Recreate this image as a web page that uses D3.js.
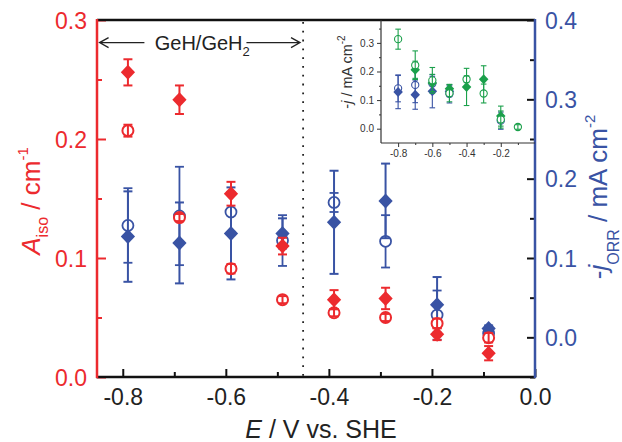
<!DOCTYPE html>
<html>
<head>
<meta charset="utf-8">
<script src="https://cdn.jsdelivr.net/npm/d3@7"></script>
<style>
  body { margin: 0; background: #fff; }
  svg { font-family: "Liberation Sans", Arial, sans-serif; }
</style>
</head>
<body>
<div id="chart"></div>
<script>
// Main plot data (potential in V vs. SHE)
const potentials = [-0.79, -0.69, -0.59, -0.49, -0.39, -0.29, -0.19, -0.09];
const aisoFilled = [0.256, 0.233, 0.154, 0.110, 0.065, 0.066, 0.036, 0.020];
const aisoFilledErr = [0.011, 0.012, 0.010, 0.007, 0.008, 0.009, 0.005, 0.006];
const aisoOpen = [0.207, 0.134, 0.091, 0.065, 0.054, 0.050, 0.045, 0.033];
const aisoOpenErr = [0.005, 0.003, 0.004, 0.003, 0.003, 0.003, 0.004, 0.004];
const jorrFilled = [0.127, 0.119, 0.131, 0.131, 0.145, 0.172, 0.041, 0.011];
const jorrFilledErr = [0.057, 0.051, 0.058, 0.019, 0.065, 0.047, 0.035, 0.004];
const jorrOpen = [0.141, 0.153, 0.158, 0.122, 0.170, 0.121, 0.028, 0.005];
const jorrOpenErr = [0.047, 0.062, 0.025, 0.032, 0.012, 0.033, 0.031, 0.004];

// Inset data
const insetPotentials = [-0.8, -0.7, -0.6, -0.5, -0.4, -0.3, -0.2, -0.1];
const insetBlueFilled = [0.128, 0.119, 0.131, 0.131, null, null, null, null];
const insetBlueFilledErr = [0.058, 0.051, 0.058, 0.019, null, null, null, null];
const insetBlueOpen = [0.141, 0.153, 0.158, 0.122, null, null, 0.028, null];
const insetBlueOpenErr = [0.047, 0.062, 0.025, 0.032, null, null, 0.03, null];
const insetGreenFilled = [null, 0.206, 0.160, 0.140, 0.146, 0.173, 0.044, null];
const insetGreenFilledErr = [null, 0.030, 0.030, 0.015, 0.065, 0.047, 0.035, null];
const insetGreenOpen = [0.313, 0.222, 0.169, 0.124, 0.173, 0.123, 0.032, 0.006];
const insetGreenOpenErr = [0.035, 0.050, 0.045, 0.030, 0.012, 0.033, 0.030, 0.008];

// Tick values
const xMajor = [-0.8, -0.6, -0.4, -0.2, 0.0];
const xMinor = [-0.7, -0.5, -0.3, -0.1];
const yLeftMajor = [0.0, 0.1, 0.2, 0.3];
const yLeftMinor = [0.05, 0.15, 0.25];
const yRightMajor = [0.0, 0.1, 0.2, 0.3, 0.4];
const yRightMinor = [-0.05, 0.05, 0.15, 0.25, 0.35];
const insetXMajor = [-0.8, -0.6, -0.4, -0.2];
const insetXMinor = [-0.7, -0.5, -0.3, -0.1];
const insetYMajor = [0.0, 0.1, 0.2, 0.3];
const insetYMinor = [0.05, 0.15, 0.25, 0.35];

const RED = '#ec2a2e';
const BLUE = '#3953a4';
const GREEN = '#1ba04b';
const INK = '#111';

const W = 622, H = 442;
const svg = d3.select('#chart').append('svg')
  .attr('width', W).attr('height', H)
  .style('background', '#fff');

// Scales
const x = d3.scaleLinear().domain([-0.85, 0]).range([97, 535]);
const yL = d3.scaleLinear().domain([0, 0.3]).range([377, 20]);
const yR = d3.scaleLinear().domain([-0.05, 0.4]).range([377, 20]);

const xi = d3.scaleLinear().domain([-0.9, 0]).range([381, 535]);
const yi = d3.scaleLinear().domain([-0.05, 0.38]).range([143, 20]);

const fmt = d => d.toFixed(1);

function diamondPath(s) {
  return `M0,${-s}L${s * 0.95},0L0,${s}L${-s * 0.95},0Z`;
}

// draws error bars + markers for one series
function drawSeries(g, xs, ys, errs, xs_, ys_, o) {
  const pts = xs.map((v, i) => ({ x: v, y: ys[i], e: errs[i] })).filter(d => d.y != null);
  const grp = g.append('g');
  const errG = grp.append('g');
  const mkG = grp.append('g');
  if (o.errOnTop) errG.raise();
  pts.forEach(d => {
    const cx = xs_(d.x);
    const y1 = ys_(d.y - d.e), y2 = ys_(d.y + d.e);
    errG.append('line').attr('x1', cx).attr('x2', cx).attr('y1', y1).attr('y2', y2)
      .attr('stroke', o.color).attr('stroke-width', o.sw);
    [y1, y2].forEach(yy => errG.append('line')
      .attr('x1', cx - o.cap).attr('x2', cx + o.cap).attr('y1', yy).attr('y2', yy)
      .attr('stroke', o.color).attr('stroke-width', o.sw));
  });
  if (o.shape === 'diamond') {
    mkG.selectAll('path').data(pts).enter().append('path')
      .attr('d', diamondPath(o.size))
      .attr('transform', d => `translate(${xs_(d.x)},${ys_(d.y)})`)
      .attr('fill', o.color);
  } else {
    mkG.selectAll('circle').data(pts).enter().append('circle')
      .attr('cx', d => xs_(d.x)).attr('cy', d => ys_(d.y))
      .attr('r', o.size)
      .attr('fill', '#fff').attr('stroke', o.color).attr('stroke-width', o.sw);
  }
}

// ---------- main axes ----------
const axes = svg.append('g');

function styleAxis(sel, tickColor, labelColor, fontSize) {
  sel.select('.domain').remove();
  sel.selectAll('.tick line').attr('stroke', tickColor).attr('stroke-width', 2);
  sel.selectAll('.tick text').attr('fill', labelColor).style('font-size', fontSize + 'px');
}

// bottom
const gxMajor = axes.append('g').attr('transform', 'translate(0,377)')
  .call(d3.axisBottom(x).tickValues(xMajor).tickSize(-8).tickFormat(fmt));
styleAxis(gxMajor, INK, '#222', 23);
gxMajor.selectAll('.tick text').attr('y', 28).attr('dy', 0);
axes.append('g').attr('transform', 'translate(0,377)')
  .call(d3.axisBottom(x).tickValues(xMinor).tickSize(-5).tickFormat(''))
  .call(s => styleAxis(s, INK, INK, 10));

// left
const gyl = axes.append('g').attr('transform', 'translate(97,0)')
  .call(d3.axisLeft(yL).tickValues(yLeftMajor).tickSize(-9).tickFormat(fmt));
styleAxis(gyl, RED, RED, 23);
gyl.selectAll('.tick text').attr('x', -10).attr('dy', '0.36em');
axes.append('g').attr('transform', 'translate(97,0)')
  .call(d3.axisLeft(yL).tickValues(yLeftMinor).tickSize(-5).tickFormat(''))
  .call(s => styleAxis(s, RED, RED, 10));

// right
const gyr = axes.append('g').attr('transform', 'translate(535,0)')
  .call(d3.axisRight(yR).tickValues(yRightMajor).tickSize(-8).tickFormat(fmt));
styleAxis(gyr, INK, BLUE, 23);
gyr.selectAll('.tick text').attr('x', 10).attr('dy', '0.36em');
axes.append('g').attr('transform', 'translate(535,0)')
  .call(d3.axisRight(yR).tickValues(yRightMinor).tickSize(-5).tickFormat(''))
  .call(s => styleAxis(s, INK, INK, 10));

// frame lines
axes.append('line').attr('x1', 97).attr('x2', 535).attr('y1', 20).attr('y2', 20)
  .attr('stroke', INK).attr('stroke-width', 2.5);
axes.append('line').attr('x1', 96).attr('x2', 536).attr('y1', 377).attr('y2', 377)
  .attr('stroke', INK).attr('stroke-width', 2.5);
axes.append('line').attr('x1', 97).attr('x2', 97).attr('y1', 19).attr('y2', 378)
  .attr('stroke', RED).attr('stroke-width', 2.5);
axes.append('line').attr('x1', 535).attr('x2', 535).attr('y1', 19).attr('y2', 378)
  .attr('stroke', BLUE).attr('stroke-width', 2.5);

// dotted boundary at -0.45 V
svg.append('line')
  .attr('x1', x(-0.45)).attr('x2', x(-0.45)).attr('y1', 22).attr('y2', 376)
  .attr('stroke', '#222').attr('stroke-width', 1.8)
  .attr('stroke-dasharray', '1.8 7');

// annotation arrows + label
const annY = yL(0.281);
const ann = svg.append('g').attr('stroke', '#222').attr('stroke-width', 1.3).attr('fill', 'none');
const aL1 = x(-0.845), aL2 = x(-0.758), aR1 = x(-0.56), aR2 = x(-0.456);
ann.append('path').attr('d', `M${aL2},${annY}L${aL1},${annY}M${aL1 + 9},${annY - 5}L${aL1},${annY}L${aL1 + 9},${annY + 5}`);
ann.append('path').attr('d', `M${aR1},${annY}L${aR2},${annY}M${aR2 - 9},${annY - 5}L${aR2},${annY}L${aR2 - 9},${annY + 5}`);
const annText = svg.append('text')
  .attr('x', x(-0.738)).attr('y', annY + 7)
  .attr('fill', '#222').style('font-size', '20px');
annText.append('tspan').text('GeH/GeH');
annText.append('tspan').attr('dy', 6).style('font-size', '13px').text('2');

// ---------- main data ----------
const plot = svg.append('g');
drawSeries(plot, potentials, jorrOpen, jorrOpenErr, x, yR, { color: BLUE, shape: 'circle', size: 5.5, sw: 1.8, cap: 4.5 });
drawSeries(plot, potentials, jorrFilled, jorrFilledErr, x, yR, { color: BLUE, shape: 'diamond', size: 7.5, sw: 2, cap: 4.5 });
drawSeries(plot, potentials, aisoOpen, aisoOpenErr, x, yL, { color: RED, shape: 'circle', size: 5.5, sw: 2, cap: 4.5, errOnTop: true });
drawSeries(plot, potentials, aisoFilled, aisoFilledErr, x, yL, { color: RED, shape: 'diamond', size: 7.5, sw: 2, cap: 4.5 });

// ---------- axis titles ----------
const xt = svg.append('text').attr('x', 321).attr('y', 438)
  .attr('text-anchor', 'middle').attr('fill', '#222').style('font-size', '25px');
xt.append('tspan').style('font-style', 'italic').text('E');
xt.append('tspan').text(' / V vs. SHE');

const ylt = svg.append('text').attr('transform', 'translate(40,201) rotate(-90)')
  .attr('text-anchor', 'middle').attr('fill', RED).style('font-size', '26px');
ylt.append('tspan').style('font-style', 'italic').text('A');
ylt.append('tspan').attr('dy', 8).style('font-size', '16px').text('iso');
ylt.append('tspan').attr('dy', -8).text(' / cm');
ylt.append('tspan').attr('dy', -12).style('font-size', '15px').text('-1');

const yrt = svg.append('text').attr('transform', 'translate(607,197) rotate(-90)')
  .attr('text-anchor', 'middle').attr('fill', BLUE).style('font-size', '26px');
yrt.append('tspan').text('-');
yrt.append('tspan').style('font-style', 'italic').text('j');
yrt.append('tspan').attr('dy', 12).style('font-size', '16px').text('ORR');
yrt.append('tspan').attr('dy', -12).text(' / mA cm');
yrt.append('tspan').attr('dy', -12).style('font-size', '15px').text('-2');

// ---------- inset ----------
const inset = svg.append('g');
inset.append('line').attr('x1', xi.range()[0]).attr('x2', xi.range()[0]).attr('y1', 20).attr('y2', 143)
  .attr('stroke', '#333').attr('stroke-width', 1.2);
inset.append('line').attr('x1', xi.range()[0]).attr('x2', 535).attr('y1', 143).attr('y2', 143)
  .attr('stroke', '#333').attr('stroke-width', 1.2);

function styleInset(sel) {
  sel.select('.domain').remove();
  sel.selectAll('.tick line').attr('stroke', '#333').attr('stroke-width', 1);
  sel.selectAll('.tick text').attr('fill', '#333').style('font-size', '10px');
}
inset.append('g').attr('transform', 'translate(0,143)')
  .call(d3.axisBottom(xi).tickValues(insetXMajor).tickSize(4).tickPadding(3).tickFormat(fmt))
  .call(styleInset);
inset.append('g').attr('transform', 'translate(0,143)')
  .call(d3.axisBottom(xi).tickValues(insetXMinor).tickSize(2).tickFormat(''))
  .call(styleInset);
inset.append('g').attr('transform', `translate(${xi.range()[0]},0)`)
  .call(d3.axisLeft(yi).tickValues(insetYMajor).tickSize(4).tickPadding(3).tickFormat(fmt))
  .call(styleInset);
inset.append('g').attr('transform', `translate(${xi.range()[0]},0)`)
  .call(d3.axisLeft(yi).tickValues(insetYMinor).tickSize(2).tickFormat(''))
  .call(styleInset);

const iyt = inset.append('text').attr('transform', 'translate(352,72) rotate(-90)')
  .attr('text-anchor', 'middle').attr('fill', '#333').style('font-size', '14.5px');
iyt.append('tspan').text('-');
iyt.append('tspan').style('font-style', 'italic').text('j');
iyt.append('tspan').text(' / mA cm');
iyt.append('tspan').attr('dy', -7).style('font-size', '10px').text('-2');

drawSeries(inset, insetPotentials, insetBlueOpen, insetBlueOpenErr, xi, yi, { color: BLUE, shape: 'circle', size: 3.6, sw: 1.1, cap: 2.8 });
drawSeries(inset, insetPotentials, insetBlueFilled, insetBlueFilledErr, xi, yi, { color: BLUE, shape: 'diamond', size: 5, sw: 1.1, cap: 2.8 });
drawSeries(inset, insetPotentials, insetGreenFilled, insetGreenFilledErr, xi, yi, { color: GREEN, shape: 'diamond', size: 5, sw: 1.1, cap: 2.8 });
drawSeries(inset, insetPotentials, insetGreenOpen, insetGreenOpenErr, xi, yi, { color: GREEN, shape: 'circle', size: 3.6, sw: 1.1, cap: 2.8, errOnTop: true });
</script>
</body>
</html>
